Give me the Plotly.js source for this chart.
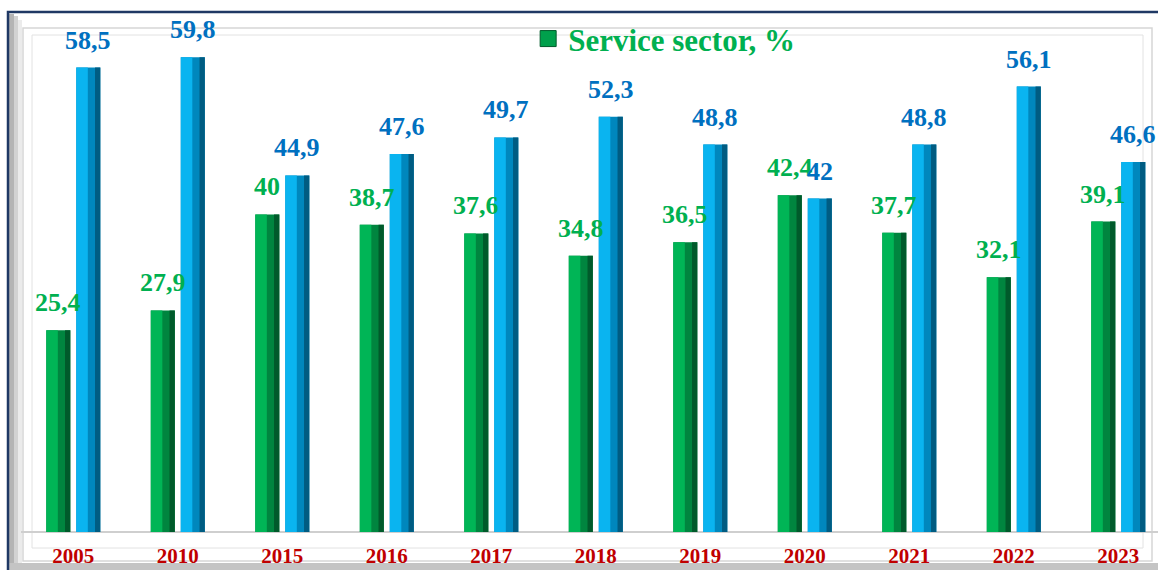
<!DOCTYPE html>
<html>
<head>
<meta charset="utf-8">
<script src="https://cdn.plot.ly/plotly-3.0.1.min.js"></script>
<style>
  html, body { margin: 0; padding: 0; background: #fff; }
  #chart { width: 1158px; height: 570px; }
</style>
</head>
<body>
<div id="chart"></div>
<script>
// data
let years = ["2005", "2010", "2015", "2016", "2017", "2018", "2019", "2020", "2021", "2022", "2023"];
let serviceShare = [25.4, 27.9, 40, 38.7, 37.6, 34.8, 36.5, 42.4, 37.7, 32.1, 39.1];
let otherShare = [58.5, 59.8, 44.9, 47.6, 49.7, 52.3, 48.8, 42, 48.8, 56.1, 46.6];

let W = 1158, H = 570;
let mL = 21, mR = 10, mT = 30, mB = 38;
let plotW = W - mL - mR, plotH = H - mT - mB;
// pixel -> paper helpers for the frame shapes
function px(x) { return (x - mL) / plotW; }
function py(y) { return (H - mB - y) / plotH; }

let idx = years.map((y, i) => i);
let barW = 0.23;
let greenOff = -0.258, blueOff = 0.029;

function comma(v) { return String(v).replace(".", ","); }

// each bar is built from three stacked strips to fake the bevel look
function strips(vals, off, light, mid, dark, name) {
  return [
    {x: idx, y: vals, type: "bar", offset: off, width: barW, marker: {color: mid, line: {width: 0}},
     showlegend: false, hoverinfo: "skip", legendgroup: name},
    {x: idx, y: vals, type: "bar", offset: off + barW * 0.78, width: barW * 0.22, marker: {color: dark, line: {width: 0}},
     showlegend: false, hoverinfo: "skip", legendgroup: name},
    {x: idx, y: vals, type: "bar", offset: off, width: barW * 0.48, marker: {color: light, line: {width: 0}},
     name: name, showlegend: false, legendgroup: name}
  ];
}

let data = []
  .concat(strips(serviceShare, greenOff, "#00b556", "#00853f", "#005a2b", "Service sector, %"))
  .concat(strips(otherShare, blueOff, "#0ab4f0", "#0087bd", "#005c82", "Other, %"));

// legend entry for the green series (bigger square than the bar legend symbol)
data.push({x: [null], y: [null], type: "scatter", mode: "markers", name: "Service sector, %",
  legendgroup: "Service sector, %", showlegend: true,
  marker: {symbol: "square", size: 18, color: "#00a04c", line: {color: "#005a2b", width: 1}}});

let labelFont = {family: "Liberation Serif", size: 26, weight: 700};
let annotations = [];
idx.forEach(function(i) {
  annotations.push({x: i + greenOff + barW / 2, y: serviceShare[i], text: comma(serviceShare[i]),
    showarrow: false, yanchor: "bottom", yshift: 11, font: Object.assign({color: "#00b050"}, labelFont)});
  annotations.push({x: i + blueOff + barW / 2, y: otherShare[i], text: comma(otherShare[i]),
    showarrow: false, yanchor: "bottom", yshift: 11, font: Object.assign({color: "#0070c0"}, labelFont)});
});

let shapes = [
  // grey shadow inside the outer frame
  {type: "rect", xref: "paper", yref: "paper", x0: px(9), x1: px(14), y0: py(600), y1: py(14), fillcolor: "#b4b4b4", line: {width: 0}, layer: "below"},
  {type: "rect", xref: "paper", yref: "paper", x0: px(14), x1: px(18), y0: py(600), y1: py(16), fillcolor: "#d2d2d2", line: {width: 0}, layer: "below"},
  {type: "rect", xref: "paper", yref: "paper", x0: px(18), x1: px(22), y0: py(600), y1: py(20), fillcolor: "#ebebeb", line: {width: 0}, layer: "below"},
  {type: "rect", xref: "paper", yref: "paper", x0: px(9), x1: px(1200), y0: py(600), y1: py(563), fillcolor: "#c4c4c4", line: {width: 0}, layer: "below"},
  // inner light frames
  {type: "rect", xref: "paper", yref: "paper", x0: px(23), x1: px(1152), y0: py(561), y1: py(28), line: {color: "#d6d6d6", width: 1.5}, layer: "below"},
  {type: "rect", xref: "paper", yref: "paper", x0: px(32), x1: px(1143), y0: py(548), y1: py(35), line: {color: "#e2e2e2", width: 1}, layer: "below"},
  // base line
  {type: "line", xref: "paper", yref: "paper", x0: px(21), x1: px(1160), y0: py(532), y1: py(532), line: {color: "#cfcfcf", width: 2}, layer: "below"},
  // outer navy frame
  {type: "rect", xref: "paper", yref: "paper", x0: px(8), x1: px(1200), y0: py(600), y1: py(12), line: {color: "#1f3864", width: 2.5}}
];

let layout = {
  width: W, height: H,
  margin: {l: mL, r: mR, t: mT, b: mB},
  paper_bgcolor: "#ffffff",
  plot_bgcolor: "rgba(0,0,0,0)",
  barmode: "overlay",
  showlegend: true,
  legend: {x: 0.45, y: 1.036, xanchor: "left", yanchor: "top", bgcolor: "rgba(0,0,0,0)", itemsizing: "trace",
    font: {family: "Liberation Serif", size: 31, weight: 700, color: "#00b050"}},
  xaxis: {
    range: [-0.5, -0.5 + plotW / 104.5],
    tickmode: "array", tickvals: idx, ticktext: years,
    showgrid: false, zeroline: false, showline: false, ticks: "",
    ticklabelstandoff: 9,
    tickfont: {family: "Liberation Serif", size: 21, weight: 700, color: "#c00000"}
  },
  yaxis: {range: [0, (H - mB - mT) / 7.94], visible: false, showgrid: false, zeroline: false},
  shapes: shapes,
  annotations: annotations
};

Plotly.newPlot("chart", data, layout, {displayModeBar: false, staticPlot: true});
</script>
</body>
</html>
